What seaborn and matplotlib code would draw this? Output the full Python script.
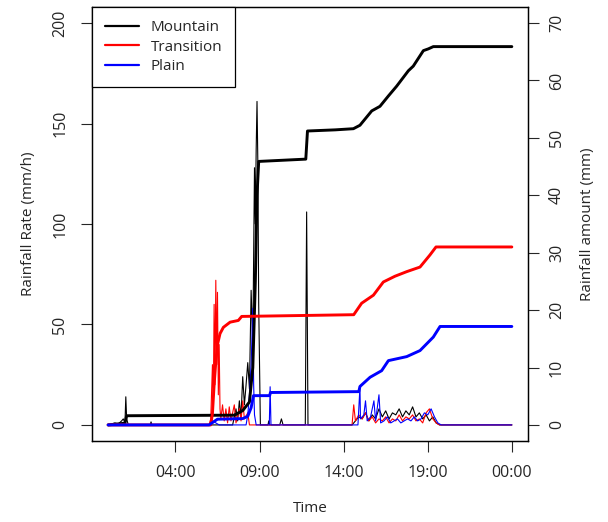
import pandas as pd
import numpy as np
import seaborn as sns
import matplotlib.pyplot as plt

sns.set_style("ticks")
plt.rcParams['font.family'] = ['Open Sans', 'DejaVu Sans']

# rainfall rate (mm/h), hours since 00:00
mountain_rate_t = [0.0, 0.4, 0.6, 0.8, 0.9, 1.0, 1.05, 1.1, 1.2, 2.5, 2.55, 2.6, 7.4, 7.6, 7.7, 7.8, 7.9, 8.0,
                   8.1, 8.2, 8.3, 8.4, 8.5, 8.6, 8.7, 8.75, 8.8, 8.85, 8.9, 8.95, 9.05, 9.5, 9.55, 9.6, 10.2,
                   10.3, 10.4, 11.72, 11.8, 11.88, 14.5, 14.7, 14.9, 15.1, 15.3, 15.5, 15.7, 15.9, 16.1, 16.3,
                   16.5, 16.7, 16.9, 17.1, 17.3, 17.5, 17.7, 17.9, 18.1, 18.3, 18.5, 18.7, 18.9, 19.1, 19.3,
                   19.5, 19.7, 24.0]
mountain_rate = [0, 1, 0.5, 2, 3, 1, 14, 3, 0, 0, 1.5, 0, 0, 8, 2, 12, 4, 24,
                 10, 20, 31, 18, 67, 40, 128, 100, 137, 161, 130, 60, 0, 0, 2, 0, 0,
                 3, 0, 0, 106, 0, 0, 2, 4, 3, 6, 2, 5, 3, 8, 4,
                 7, 3, 6, 5, 8, 4, 7, 5, 9, 4, 6, 3, 5, 2, 4,
                 1, 0, 0]

transition_rate_t = [0.0, 6.0, 6.1, 6.2, 6.25, 6.3, 6.35, 6.4, 6.45, 6.5, 6.55, 6.6, 6.65, 6.7, 6.8, 6.9, 7.0,
                     7.1, 7.2, 7.3, 7.5, 7.6, 7.8, 7.9, 8.0, 8.1, 8.3, 8.4, 14.5, 14.6, 14.7, 14.9, 15.1,
                     15.3, 15.5, 15.7, 15.9, 16.1, 16.3, 16.5, 16.7, 16.9, 17.1, 17.3, 17.5, 17.7, 17.9,
                     18.1, 18.3, 18.5, 18.7, 18.9, 19.1, 19.3, 19.5, 19.7, 24.0]
transition_rate = [0, 0, 3, 30, 10, 60, 20, 72, 30, 66, 15, 40, 8, 3, 10, 2, 8,
                   1, 9, 2, 10, 1, 8, 2, 12, 3, 6, 0, 0, 10, 2, 5, 3,
                   6, 2, 4, 1, 3, 2, 4, 1, 3, 2, 5, 2, 4, 3,
                   5, 2, 3, 1, 6, 8, 3, 1, 0, 0]

plain_rate_t = [0.0, 6.0, 6.2, 6.4, 6.6, 8.2, 8.3, 8.4, 8.5, 8.6, 8.65, 8.7, 8.8, 9.58, 9.63, 9.68, 14.85,
                14.97, 15.0, 15.2, 15.3, 15.4, 15.6, 15.8, 15.9, 16.1, 16.2, 16.4, 16.6, 16.8, 17.0, 17.2,
                17.4, 17.6, 17.8, 18.0, 18.2, 18.4, 18.6, 18.8, 19.0, 19.2, 19.4, 19.6, 19.8, 24.0]
plain_rate = [0, 0, 2, 1, 0, 0, 5, 15, 30, 58, 20, 5, 0, 0, 19, 0, 0,
              19, 3, 5, 12, 2, 4, 12, 2, 15, 1, 2, 4, 1, 2, 3,
              1, 2, 3, 2, 4, 2, 3, 6, 5, 8, 4, 1, 0, 0]

# accumulated rainfall (mm)
mountain_acc_t = [0.0, 1.0, 1.1, 7.5, 8.0, 8.4, 8.6, 8.75, 8.85, 8.95, 11.75, 11.85, 13.5, 14.58, 14.97,
                  15.67, 16.16, 16.66, 17.15, 17.85, 18.14, 18.74, 19.03, 19.33, 24.0]
mountain_acc = [0, 0.3, 1.6, 1.7, 2.5, 4, 10, 25, 40, 45.9, 46.3, 51.2, 51.4, 51.6, 52.2,
                54.7, 55.5, 57.3, 59.0, 61.7, 62.5, 65.2, 65.5, 65.9, 65.9]

transition_acc_t = [0.0, 6.1, 6.2, 6.3, 6.4, 6.5, 6.65, 6.85, 7.25, 7.74, 7.94, 14.6, 15.07, 15.77, 16.36,
                    17.05, 17.75, 18.54, 19.13, 19.49, 24.0]
transition_acc = [0, 0, 2, 7, 11, 14, 15.9, 17.0, 17.9, 18.2, 18.9, 19.2, 21.2, 22.6, 24.9,
                  25.9, 26.7, 27.5, 29.6, 31.0, 31.0]

plain_acc_t = [0.0, 6.0, 6.5, 8.0, 8.3, 8.5, 8.64, 9.6, 9.65, 14.9, 14.97, 15.57, 16.26, 16.66, 17.75,
               18.54, 19.33, 19.73, 24.0]
plain_acc = [0, 0, 1.0, 1.1, 1.5, 3, 5.1, 5.1, 5.65, 5.8, 6.7, 8.3, 9.45, 11.2, 11.9,
             12.95, 15.3, 17.15, 17.15]

regions = ['Mountain', 'Transition', 'Plain']
colors = {'Mountain': 'black', 'Transition': '#ff0000', 'Plain': '#0000ff'}
tick_hours = [4, 9, 14, 19, 24]
tick_labels = ['04:00', '09:00', '14:00', '19:00', '00:00']

rate_df = pd.concat([
    pd.DataFrame({'t': mountain_rate_t, 'v': mountain_rate, 'region': 'Mountain'}),
    pd.DataFrame({'t': transition_rate_t, 'v': transition_rate, 'region': 'Transition'}),
    pd.DataFrame({'t': plain_rate_t, 'v': plain_rate, 'region': 'Plain'}),
])
acc_df = pd.concat([
    pd.DataFrame({'t': mountain_acc_t, 'v': mountain_acc, 'region': 'Mountain'}),
    pd.DataFrame({'t': transition_acc_t, 'v': transition_acc, 'region': 'Transition'}),
    pd.DataFrame({'t': plain_acc_t, 'v': plain_acc, 'region': 'Plain'}),
])

fig = plt.figure(figsize=(6.08, 5.22), dpi=100)
ax = fig.add_axes([92 / 608, 81 / 522, 436 / 608, 434 / 522])

sns.lineplot(data=rate_df, x='t', y='v', hue='region', hue_order=regions, palette=colors,
             estimator=None, sort=False, linewidth=0.8, legend=False, ax=ax)
ax.set_xlim(-0.96, 24.96)
ax.set_ylim(-8, 208)
ax.set_yticks([0, 50, 100, 150, 200])
ax.set_xticks(tick_hours)
ax.set_xticklabels(tick_labels)
ax.set_xlabel('Time', fontsize=11, labelpad=15)
ax.set_ylabel('Rainfall Rate (mm/h)', fontsize=11, labelpad=12)
ax.tick_params(axis='y', labelrotation=90, length=8, width=0.8, pad=9, labelsize=11.5)
ax.tick_params(axis='x', length=8, width=0.8, pad=9, labelsize=11.5)
for lab in ax.get_yticklabels():
    lab.set_va('center')

ax2 = ax.twinx()
sns.lineplot(data=acc_df, x='t', y='v', hue='region', hue_order=regions, palette=colors,
             estimator=None, sort=False, linewidth=2.1, ax=ax2)
ax2.set_ylim(-2.8, 72.8)
ax2.set_yticks(range(0, 80, 10))
ax2.set_ylabel('Rainfall amount (mm)', fontsize=11, labelpad=11)
ax2.tick_params(axis='y', labelrotation=90, length=8, width=0.8, pad=7, labelsize=11.5)
for lab in ax2.get_yticklabels():
    lab.set_va('center')

for a in (ax, ax2):
    for s in a.spines.values():
        s.set_visible(True)
        s.set_color('black')
        s.set_linewidth(0.9)

handles, labels = ax2.get_legend_handles_labels()
for h in handles:
    h.set_linewidth(1.6)
leg = ax2.legend(handles, labels, loc='upper left', borderaxespad=0, fancybox=False,
                 edgecolor='black', framealpha=1, fontsize=11, handlelength=2.2,
                 handletextpad=0.8, labelspacing=0.3, borderpad=0.85)
leg.get_frame().set_linewidth(0.9)

fig.savefig('out.png', dpi=100)
